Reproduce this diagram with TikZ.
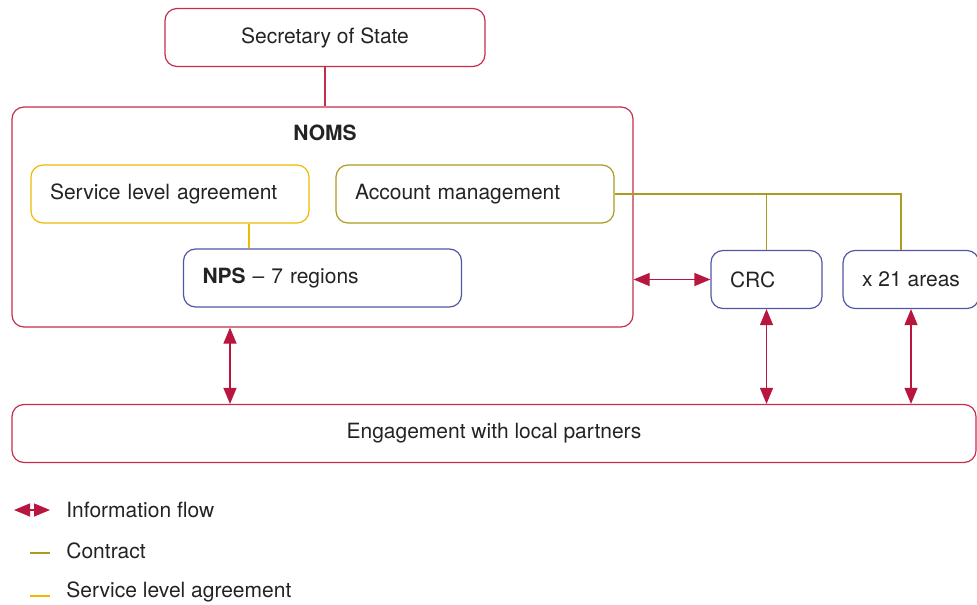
\documentclass[tikz,border=0pt]{standalone}
\usepackage{fontspec}
\setmainfont{TeX Gyre Heros}
\usepackage{tikz}
\usetikzlibrary{arrows.meta,positioning,calc}
\definecolor{nomsRed}{RGB}{198,44,76}
\definecolor{flowRed}{RGB}{184,22,62}
\definecolor{slaYellow}{RGB}{236,186,0}
\definecolor{contractOlive}{RGB}{170,156,32}
\definecolor{npsBlue}{RGB}{82,84,164}
\definecolor{txtGray}{RGB}{35,35,35}
\tikzset{
  box/.style={draw=#1,rounded corners=6pt,line width=0.6pt,minimum height=29pt,
              font=\fontsize{10.5}{12}\selectfont,text=txtGray,inner xsep=9.5pt},
  lbox/.style 2 args={box=#1,align=left,text width=#2},
  flow/.style={{Triangle[length=8pt,width=6.5pt]}-{Triangle[length=8pt,width=6.5pt]},
               flowRed,line width=0.6pt},
  contract/.style={contractOlive,line width=0.6pt},
  sla/.style={slaYellow,line width=0.6pt},
  legtext/.style={font=\fontsize{10.5}{12}\selectfont,text=txtGray,inner sep=0pt},
}

\begin{document}
\begin{tikzpicture}[x=0.5pt,y=-0.5pt]
  \useasboundingbox (0,0) rectangle (977,604);

  % top of the chain
  \node[box=nomsRed,minimum width=160pt] (sos) at (325,37.5) {Secretary of State};
  \node[box=nomsRed,minimum width=310.5pt,minimum height=110pt] (noms) at (322.5,217) {};
  \node[legtext,font=\fontsize{10.5}{12}\selectfont\bfseries] (nomstitle) at (325,133) {NOMS};

  \node[lbox={slaYellow}{120pt}] (sla) at (170,194) {Service level agreement};
  \node[lbox={contractOlive}{120pt}] (acct) at (475,194) {Account management};
  \node[lbox={npsBlue}{120pt}] (nps) at (322.5,278) {\textbf{NPS} -- 7 regions};

  \node[lbox={npsBlue}{36.5pt}] (crc) at (766.5,279.5) {CRC};
  \node[box=npsBlue,minimum width=65pt] (areas) at (911,279.5) {x 21 areas};

  \node[box=nomsRed,minimum width=482pt] (local) at (494,433.5) {Engagement with local partners};

  \draw[nomsRed,line width=0.6pt] (sos.south) -- (sos.south |- noms.north);
  \draw[sla] ([xshift=39.5pt]sla.south) -- ([xshift=39.5pt]sla.south |- nps.north);

  % contracts
  \coordinate (atop) at ([xshift=-5pt]areas.north);
  \draw[contract] (acct.east) -| (atop);
  \draw[contract] (crc.north) -- (crc.north |- acct.east);

  % information flow
  \draw[flow] (noms.east |- crc.west) -- (crc.west);
  \draw[flow] ([xshift=-46.25pt]noms.south) -- ([xshift=-46.25pt]noms.south |- local.north);
  \draw[flow] (crc.south) -- (crc.south |- local.north);
  \draw[flow] (areas.south) -- (areas.south |- local.north);

  % legend
  \coordinate (legA) at (14,510);
  \coordinate (legB) at (50,510);
  \draw[flow] (legA) -- (legB);
  \node[legtext,anchor=west,right=8pt of legB] (legflow) {Information flow};

  \coordinate (conA) at (30,553);
  \coordinate (conB) at (50,553);
  \draw[contract] (conA) -- (conB);
  \node[legtext,anchor=west,right=8pt of conB,yshift=1pt] (legcon) {Contract};

  \coordinate (slaA) at (30,596);
  \coordinate (slaB) at (50,596);
  \draw[sla] (slaA) -- (slaB);
  \node[legtext,anchor=west,right=8pt of slaB,yshift=2pt] (legsla) {Service level agreement};
\end{tikzpicture}
\end{document}
